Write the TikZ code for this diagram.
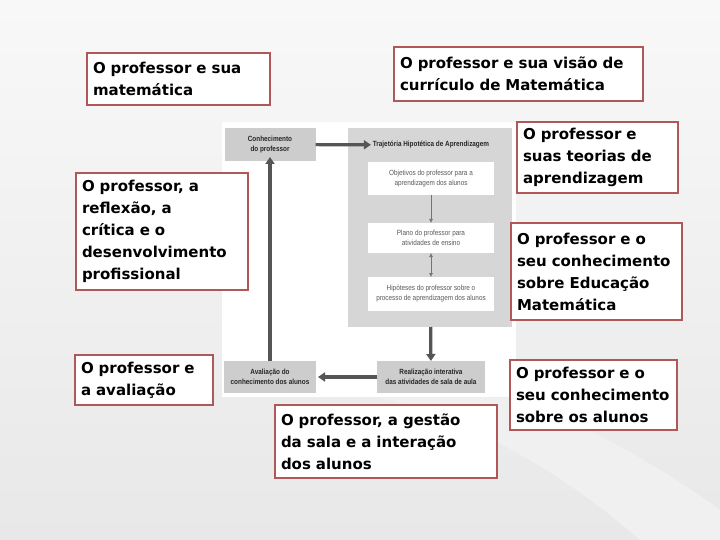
\documentclass[tikz,border=0pt]{standalone}
\usepackage{fontspec}
\setmainfont{DejaVu Sans}
\newfontfamily\narrowfont[FakeStretch=0.85]{Liberation Sans}
\usetikzlibrary{arrows.meta}
\definecolor{boxred}{RGB}{176,88,88}
\definecolor{panelgray}{RGB}{214,214,214}
\definecolor{labelgray}{RGB}{205,205,205}
\definecolor{arrowgray}{RGB}{85,85,85}
\definecolor{pagegray}{RGB}{232,232,232}

\begin{document}
\begin{tikzpicture}[x=1pt,y=-1pt,
  topic/.style={draw=boxred, line width=2.6pt, fill=white, outer sep=0pt,
    inner sep=6pt, align=left, font=\fontsize{15}{22}\selectfont\bfseries},
  graybox/.style={fill=labelgray, outer sep=0pt, align=center, text=black!85,
    font=\narrowfont\bfseries\fontsize{7.5}{9.5}\selectfont},
  stepbox/.style={fill=white, outer sep=0pt, align=center, text=black!65,
    minimum width=126pt, font=\narrowfont\fontsize{7.5}{10}\selectfont},
  flow/.style={draw=arrowgray, line width=3.2pt, -{Triangle[length=7pt,width=9pt]}},
  thin flow/.style={draw=black!55, line width=0.6pt, -{Latex[length=4pt,width=4pt]}},
  thin both/.style={draw=black!55, line width=0.6pt, {Latex[length=4pt,width=4pt]}-{Latex[length=4pt,width=4pt]}}]
% page
\useasboundingbox (0,0) rectangle (720,540);
\shade[top color=white!70!pagegray, bottom color=pagegray] (0,0) rectangle (720,540);
\fill[black!6] (720,540) -- (640,540) .. controls (560,470) and (470,420) .. (380,398) -- (516,398) .. controls (600,430) and (680,480) .. (720,510) -- cycle;
\fill[white] (222,122) rectangle (516,397);

% central diagram
\node[graybox, minimum width=91pt, minimum height=33pt] (con) at (270,144.5) {Conhecimento\\do professor};
\node[fill=panelgray, minimum width=164pt, minimum height=199pt, outer sep=0pt] (thp) at (430,227.5) {};
\node[graybox, fill=none, inner sep=2pt] (traj) at (431,145) {Trajetória Hipotética de Aprendizagem};
\node[stepbox, minimum height=33pt] (obj) at (431,178.5) {Objetivos do professor para a\\aprendizagem dos alunos};
\node[stepbox, minimum height=30pt] (pla) at (431,238) {Plano do professor para\\atividades de ensino};
\node[stepbox, minimum height=34pt] (hip) at (431,294) {Hipóteses do professor sobre o\\processo de aprendizagem dos alunos};
\node[graybox, minimum width=108pt, minimum height=32pt] (rea) at (431,377) {Realização interativa\\das atividades de sala de aula};
\node[graybox, minimum width=92pt, minimum height=32pt] (ava) at (270,377) {Avaliação do\\conhecimento dos alunos};

\draw[flow] (con) -- (traj);
\draw[thin flow] (obj) -- (pla);
\draw[thin both] (pla) -- (hip);
\draw[flow] (thp) -- (rea);
\draw[flow] (rea) -- ([xshift=2pt]ava.east);
\draw[flow] (ava.north) -- ([yshift=4pt]con.south);

% topics round it
\node[topic, minimum width=183pt, minimum height=52pt, text width=171pt] (mat) at (178.5,79) {O professor e sua\\matemática};
\node[topic, minimum width=249pt, minimum height=54pt, text width=237pt] (cur) at (518.5,74) {O professor e sua visão de\\currículo de Matemática};
\node[topic, minimum width=172pt, minimum height=117pt, text width=160pt] (ref) at (162,231.5) {O professor, a\\reflexão, a\\crítica e o\\desenvolvimento\\profissional};
\node[topic, minimum width=138pt, minimum height=50pt, text width=126pt] (ava2) at (144,380) {O professor e\\a avaliação};
\node[topic, minimum width=161pt, minimum height=71pt, text width=149pt] (teo) at (597.5,157.5) {O professor e\\suas teorias de\\aprendizagem};
\node[topic, minimum width=171pt, minimum height=97pt, text width=159pt] (edu) at (596.5,271.5) {O professor e o\\seu conhecimento\\sobre Educação\\Matemática};
\node[topic, minimum width=167pt, minimum height=70pt, text width=155pt] (alu) at (593.5,395) {O professor e o\\seu conhecimento\\sobre os alunos};
\node[topic, minimum width=222pt, minimum height=73pt, text width=210pt] (ges) at (386,441.5) {O professor, a gestão\\da sala e a interação\\dos alunos};
\end{tikzpicture}
\end{document}
